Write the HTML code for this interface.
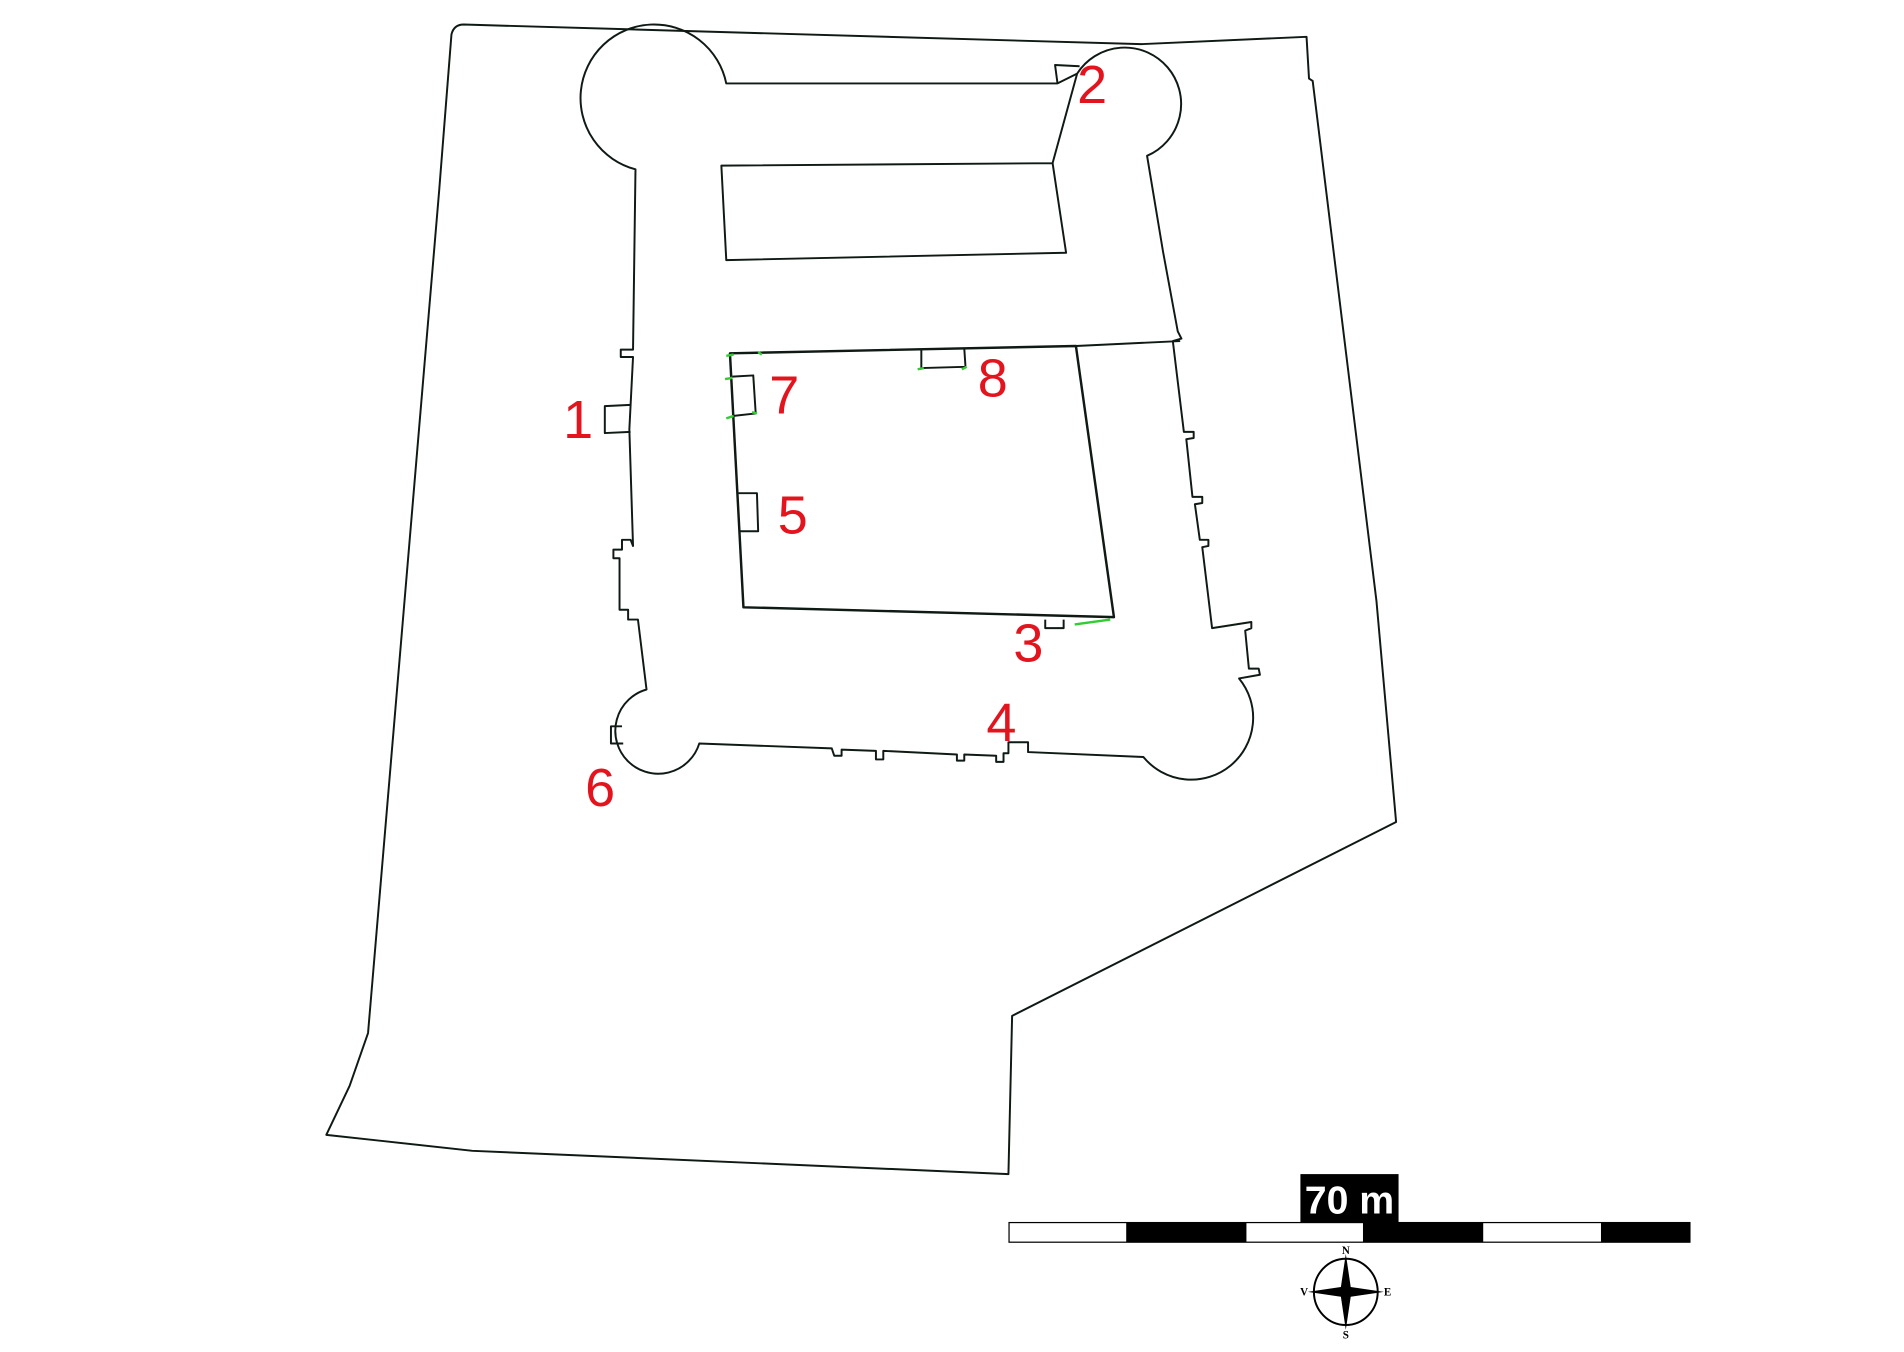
<!DOCTYPE html>
<html><head><meta charset="utf-8"><style>
html,body{margin:0;padding:0;background:#fff;}
svg{display:block;}
</style></head><body>
<svg width="1904" height="1352" viewBox="0 0 1552 1102" preserveAspectRatio="none" xmlns="http://www.w3.org/2000/svg">
<g fill="none" stroke="#0f1a14" stroke-width="1.6" stroke-linejoin="round">
<!-- outer enclosure -->
<path d="M378,20 L930,36 L1065,30 L1067,64 L1070,66 L1122,490 L1138,670 L825,828 L822,957 L385,938 L266,925 L285,885 L300,842 L358,155 L368,28 Q370,20 378,20 Z"/>
<!-- fort outline -->
<path d="M518,138 A60,60 0 1 1 592,68 L862,68 L878,60 A46,46 0 1 1 935,127 L948,205 L960,270 L963,276 L956,278 L965,352 L973,352 L973,357 L967,358 L972,405 L980,405 L980,410 L974,411 L978,440 L985,440 L985,445 L980,446 L988,512 L1020,507 L1020,512 L1015,514 L1018,545 L1026,545 L1027,550 L1010,553 A50,50 0 1 1 932,617 L838,613 L838,605 L822,605 L822,614 L818,614 L818,621 L812,621 L812,616 L786,615 L786,620 L780,620 L780,615 L720,612 L720,619 L714,619 L714,612 L686,611 L686,616 L680,616 L678,610 L570,606 A35,35 0 1 1 527,562 L520,505 L512,505 L512,497 L505,497 L505,455 L500,455 L500,448 L507,448 L507,440 L514,440 L516,445 L513,350 L516,291 L506,291 L506,285 L516,285 Z"/>
<path d="M862,68 L860,53 L880,54"/>
<path d="M878,60 L858,133 L869,206 L592,212 L588,135 L858,133"/>
<!-- inner courtyard -->
<path d="M595,288 L877,282 L908,503 L606,495 Z" stroke-width="2"/>
<path d="M877,282 L962,278"/>
<!-- small rooms -->
<path d="M514,330 L493,331 L493,353 L514,352"/>
<path d="M507,592 L498,592 L498,606 L508,606"/>
<path d="M597,307 L614,306 L616,337 L598,339"/>
<path d="M602,402 L617,402 L618,433 L603,433"/>
<path d="M751,285 L751,300 L787,299 L786,284"/>
<path d="M852,505 L852,512 L867,512 L867,505"/>
</g>
<g stroke="#3c3" stroke-width="2" fill="none">
<path d="M592,290 L598,289 M618,287 L621,289 M591,309 L597,308 M592,341 L598,339 M613,336 L617,337 M748,301 L753,300 M784,301 L788,299 M876,509 L905,505"/>
</g>
<g fill="#e3141e" font-family="Liberation Sans, sans-serif" font-size="44">
<text x="459" y="357">1</text>
<text x="878" y="84">2</text>
<text x="826" y="539">3</text>
<text x="804" y="604">4</text>
<text x="634" y="435">5</text>
<text x="477" y="657">6</text>
<text x="627" y="337">7</text>
<text x="797" y="323">8</text>
</g>
<!-- scale bar -->
<rect x="1060" y="957" width="80" height="40" fill="#000"/>
<text x="1100" y="989" fill="#fff" font-family="Liberation Sans, sans-serif" font-weight="bold" font-size="32" text-anchor="middle">70 m</text>
<rect x="822" y="996" width="556" height="17" fill="#000"/>
<rect x="823" y="997" width="95" height="15" fill="#fff"/>
<rect x="1016" y="997" width="95" height="15" fill="#fff"/>
<rect x="1209" y="997" width="96" height="15" fill="#fff"/>
<!-- compass -->
<ellipse cx="1097" cy="1053" rx="26" ry="27" fill="none" stroke="#000" stroke-width="1.6"/>
<path d="M1097,1022 L1101,1049 L1128,1053 L1101,1057 L1097,1084 L1093,1057 L1066,1053 L1093,1049 Z" fill="#000"/>
<g font-family="Liberation Serif, serif" font-weight="bold" font-size="9" fill="#000" text-anchor="middle">
<text x="1097" y="1022">N</text>
<text x="1131" y="1056">E</text>
<text x="1097" y="1091">S</text>
<text x="1063" y="1056">V</text>
</g>
</svg>
</body></html>
